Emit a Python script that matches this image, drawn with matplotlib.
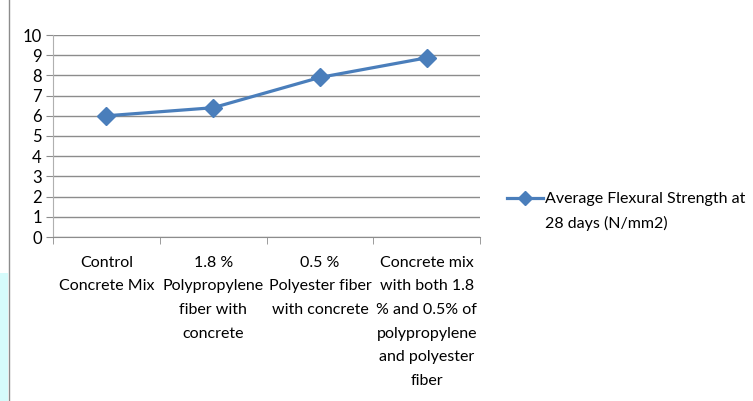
import matplotlib
matplotlib.use("Agg")
import matplotlib.pyplot as plt
from matplotlib.lines import Line2D
from matplotlib.patches import Rectangle

categories = ["Control\nConcrete Mix",
              "1.8 %\nPolypropylene\nfiber with\nconcrete",
              "0.5 %\nPolyester fiber\nwith concrete",
              "Concrete mix\nwith both 1.8\n% and 0.5% of\npolypropylene\nand polyester\nfiber"]
values = [6.0, 6.4, 7.9, 8.87]
series_name = "Average Flexural Strength at\n28 days (N/mm2)"
yticks = list(range(0, 11))

plt.rcParams['font.family'] = ['Lato', 'DejaVu Sans']
color = "#4a7ebb"
W, H = 753, 401

fig = plt.figure(figsize=(W/100, H/100), dpi=100)
ax = fig.add_axes([53/W, 1-237/H, (480-53)/W, (237-35)/H])

x = list(range(len(values)))
line, = ax.plot(x, values, color=color, lw=2.3, marker="D", markersize=9.5,
                label=series_name, zorder=3)
ax.set_xlim(-0.5, len(values)-0.5)
ax.set_ylim(0, 10)
ax.set_yticks(yticks)
ax.set_yticklabels([str(t) for t in yticks], fontsize=12)
ax.yaxis.grid(True, color="#8c8c8c", lw=1)
ax.set_axisbelow(True)
ax.set_xticks(x)
ax.set_xticklabels(categories, fontsize=11.5, linespacing=1.88, va="top")
ax.set_xticks([i-0.5 for i in range(len(values)+1)], minor=True)
ax.tick_params(axis="x", which="major", length=0, pad=13.5)
ax.tick_params(axis="x", which="minor", length=5, color="#8c8c8c")
ax.tick_params(axis="y", length=5, color="#8c8c8c", pad=3)
for s in ["top", "right"]:
    ax.spines[s].set_visible(False)
ax.spines["left"].set_color("#b0b0b0")
ax.spines["bottom"].set_color("#8c8c8c")

# legend drawn manually (handle aligned with the first text line)
ly = 1-198/H
fig.add_artist(Line2D([507/W, 543/W], [ly, ly], transform=fig.transFigure,
                      color=color, lw=2.3))
fig.add_artist(Line2D([525/W], [ly], transform=fig.transFigure, color=color,
                      marker="D", markersize=7, lw=0))
fig.text(545/W, 1-192/H, series_name, fontsize=11.5, linespacing=1.86,
         va="top", ha="left")

fig.patches.append(Rectangle((0, 0), 8/W, 1-273/H, transform=fig.transFigure,
                             facecolor="#d5fbfb", edgecolor="none", figure=fig))
fig.add_artist(Line2D([9/W, 9/W], [0, 1], transform=fig.transFigure,
                      color="#8c8c8c", lw=1))

fig.savefig("out.png", dpi=100)
